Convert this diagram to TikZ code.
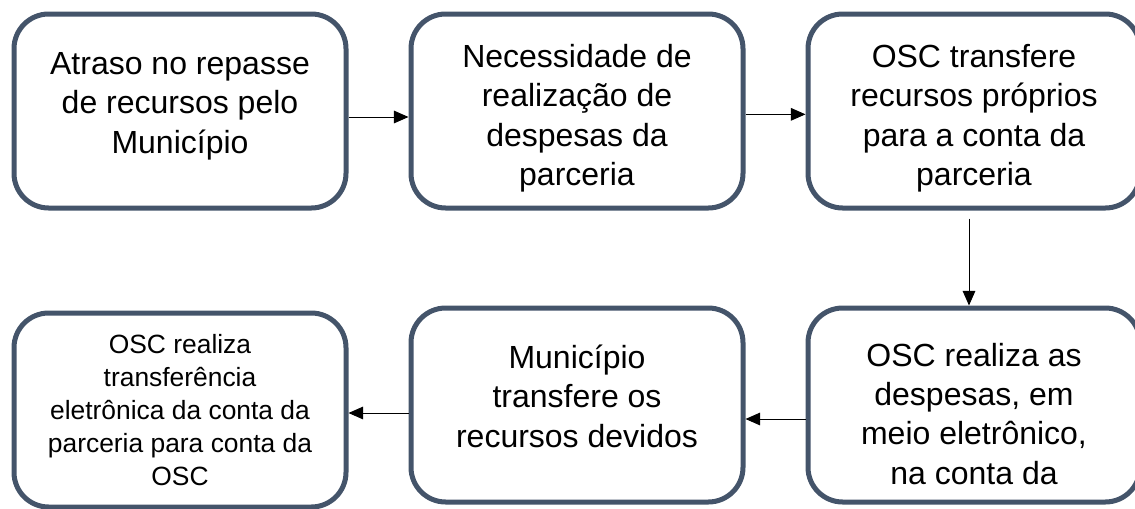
\documentclass[tikz,border=0pt]{standalone}
\usepackage{fontspec}
\setmainfont{Liberation Sans}
\usetikzlibrary{arrows.meta}
\definecolor{borda}{RGB}{68,84,106}
\tikzset{
	caixa/.style={draw=borda, line width=3.75pt, rounded corners=26pt, fill=white,
		minimum width=249pt, minimum height=145.5pt, align=center,
		font=\fontsize{24}{29.5}\selectfont},
	seta/.style={-{Triangle[length=11pt,width=9.5pt]}, line width=0.75pt, black}
}

\begin{document}
\begin{tikzpicture}[x=0.75pt, y=-0.75pt]
\useasboundingbox (0,0) rectangle (1135,508);
% linha de cima
\node [caixa] (atraso) at (180,111) {Atraso no repasse\\de recursos pelo\\Município\rule[-12.5pt]{0pt}{0pt}};
\node [caixa] (necessidade) at (577,111) {\rule{0pt}{28pt}Necessidade de\\realização de\\despesas da\\parceria};
\node [caixa] (transfere) at (974,111) {\rule{0pt}{28pt}OSC transfere\\recursos próprios\\para a conta da\\parceria};
% linha de baixo
\node [caixa] (despesas) at (974,405) {\rule{0pt}{30.5pt}OSC realiza as\\despesas, em\\meio eletrônico,\\na conta da};
\node [caixa] (municipio) at (577,405) {Município\\transfere os\\recursos devidos\rule[-13.5pt]{0pt}{0pt}};
\node [caixa, font=\fontsize{19.8}{24.75}\selectfont] (eletronica) at (180,410) {OSC realiza\\transferência\\eletrônica da conta da\\parceria para conta da\\OSC};
% setas
\draw [seta] ([yshift=-4.5pt]atraso.east) -- ([yshift=-4.5pt]necessidade.west);
\draw [seta] ([yshift=-2.5pt]necessidade.east) -- ([yshift=-2.5pt]transfere.west);
\draw [seta, shorten <=6pt] ([xshift=-3.75pt]transfere.south) -- ([xshift=-3.75pt]despesas.north);
\draw [seta] ([yshift=-10.5pt]despesas.west) -- ([yshift=-10.5pt]municipio.east);
\draw [seta] ([yshift=-6pt]municipio.west) -- ([yshift=-2.25pt]eletronica.east);
\end{tikzpicture}
\end{document}
